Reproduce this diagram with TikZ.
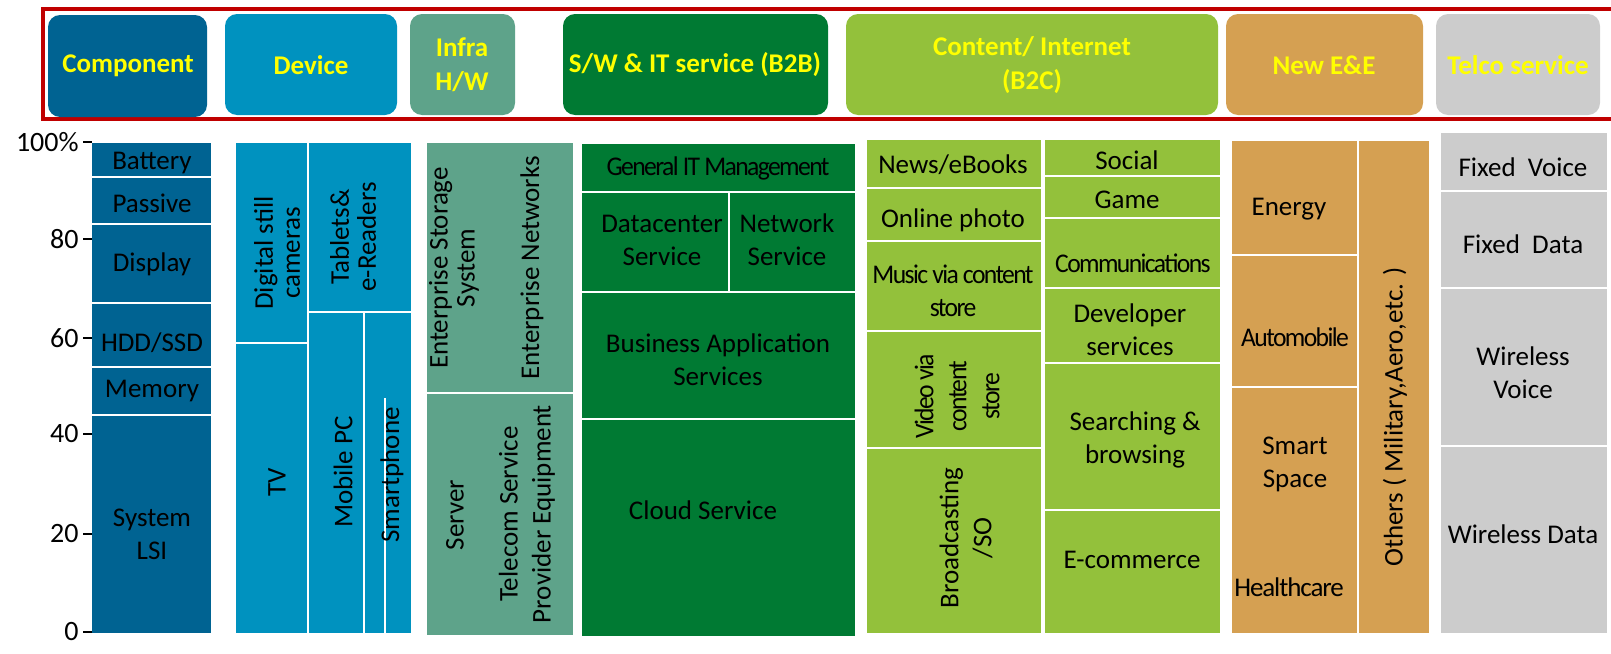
\documentclass[tikz,border=0pt]{standalone}
\usepackage{fontspec}
\setmainfont{Carlito}
\newfontfamily\narrowfont[FakeStretch=0.95, LetterSpace=-6]{Carlito}
\newfontfamily\semifont[LetterSpace=-4]{Carlito}
\definecolor{compblue}{RGB}{0,99,146}
\definecolor{devblue}{RGB}{0,146,191}
\definecolor{infragreen}{RGB}{94,163,138}
\definecolor{swgreen}{RGB}{0,122,51}
\definecolor{webgreen}{RGB}{147,193,59}
\definecolor{eetan}{RGB}{213,160,82}
\definecolor{telgrey}{RGB}{204,204,204}
\definecolor{framered}{RGB}{192,0,0}
\definecolor{hdryellow}{RGB}{255,255,0}
\tikzset{
	hdr/.style={font=\bfseries\fontsize{13.5}{17}\selectfont, text=hdryellow, align=center, inner sep=0},
	lbl/.style={font=\fontsize{13.5}{16.5}\selectfont, align=center, inner sep=0},
	tight/.style={font=\fontsize{13.5}{13.5}\selectfont},
	narrow/.style={font=\narrowfont\fontsize{13.5}{16.5}\selectfont},
	semi/.style={font=\semifont\fontsize{13.5}{16.5}\selectfont},
	vlbl/.style={lbl, rotate=90},
	sep/.style={white, line width=1.3pt},
	tick/.style={line width=1pt},
	ax/.style={font=\fontsize{14}{16}\selectfont, anchor=east, inner sep=0}
}
\begin{document}
\begin{tikzpicture}[x=0.5pt,y=-0.5pt]
	\useasboundingbox (0,0) rectangle (1611,653);
	\clip (0,0) rectangle (1611,653);
	% header bar
	\draw [framered, line width=2.2pt] (43,9) rectangle (1640,119);
	\fill [compblue, rounded corners=6pt] (48,15) rectangle (207,117);
	\fill [devblue, rounded corners=6pt] (225,14) rectangle (397,115);
	\fill [infragreen, rounded corners=6pt] (410,14) rectangle (515,115);
	\fill [swgreen, rounded corners=6pt] (563,14) rectangle (828,115);
	\fill [webgreen, rounded corners=6pt] (846,14) rectangle (1218,115);
	\fill [eetan, rounded corners=6pt] (1226,14) rectangle (1423,115);
	\fill [telgrey, rounded corners=6pt] (1436,14) rectangle (1600,115);
	\node [hdr] (comp) at (128,66) {Component};
	\node [hdr] (dev) at (311,65) {Device};
	\node [hdr] (infra) at (462,65) {Infra\\H/W};
	\node [hdr] (sw) at (695,65) {S/W \& IT service (B2B)};
	\node [hdr] (web) at (1032,65) {Content/ Internet\\(B2C)};
	\node [hdr] (ee) at (1324,65) {New E\&E};
	\node [hdr] (telco) at (1518,65) {Telco service};
	% axis
	\foreach \v/\y in {0/632, 20/534, 40/434, 60/338, 80/239} {
		\draw [tick] (83,\y) -- (92,\y);
		\node [ax] (y\v) at (79,\y) {\v};
	}
	\draw [tick] (83,142) -- (92,142);
	\node [ax] (y100) at (79,142) {100\%};
	% component
	\fill [compblue] (92,143) rectangle (211,633);
	\foreach \y in {177, 224, 303, 367, 415} {
		\draw [sep] (92,\y) -- (211,\y);
	}
	\node [lbl] (battery) at (152,163) {Battery};
	\node [lbl] (passive) at (152,203) {Passive};
	\node [lbl] (display) at (152,264) {Display};
	\node [lbl] (hdd) at (152,343) {HDD/SSD};
	\node [lbl] (memory) at (152,391) {Memory};
	\node [lbl] (lsi) at (152,534) {System\\LSI};
	% device
	\fill [devblue] (236,143) rectangle (411,633);
	\draw [sep] (308,143) -- (308,633);
	\draw [sep] (236,343) -- (307,343);
	\draw [sep] (309,312) -- (411,312);
	\draw [sep] (364,312) -- (364,633);
	\draw [white, line width=0.8pt] (385,398) -- (385,633);
	\node [vlbl, tight] (dsc) at (277,253) {Digital still\\cameras};
	\node [vlbl] (tv) at (277,482) {TV};
	\node [vlbl, tight] (tablet) at (353,237) {Tablets\&\\e-Readers};
	\node [vlbl] (mpc) at (343,472) {Mobile PC};
	\node [vlbl] (phone) at (392,475) {Smartphone};
	% infra h/w
	\fill [infragreen] (427,143) rectangle (573,635);
	\draw [sep] (427,393) -- (573,393);
	\node [vlbl, tight] (storage) at (454,268) {Enterprise Storage\\System};
	\node [vlbl] (entnet) at (532,268) {Enterprise Networks};
	\node [vlbl] (server) at (455,515) {Server};
	\node [vlbl] (telequip) at (527,514) {Telecom Service\\Provider Equipment};
	% s/w & it service
	\fill [swgreen] (582,144) rectangle (855,636);
	\foreach \y in {192, 292, 419} {
		\draw [sep] (582,\y) -- (855,\y);
	}
	\draw [sep] (729,192) -- (729,292);
	\node [lbl, narrow] (itmgmt) at (718,168) {General IT Management};
	\node [lbl] (dcsvc) at (662,240) {Datacenter\\Service};
	\node [lbl] (netsvc) at (787,240) {Network\\Service};
	\node [lbl] (bizapp) at (718,360) {Business Application\\Services};
	\node [lbl] (cloud) at (703,510) {Cloud Service};
	% content / internet
	\fill [webgreen] (867,140) rectangle (1220,633);
	\draw [white, line width=2pt] (1043,140) -- (1043,633);
	\foreach \y in {188, 241, 331, 448} {
		\draw [sep] (867,\y) -- (1042,\y);
	}
	\foreach \y in {176, 218, 288, 363, 510} {
		\draw [sep] (1044,\y) -- (1220,\y);
	}
	\node [lbl] (news) at (953,165) {News/eBooks};
	\node [lbl] (photo) at (953,220) {Online photo};
	\node [lbl, narrow] (music) at (953,291) {Music via content\\store};
	\node [vlbl, narrow] (video) at (957,396) {Video via\\content\\store};
	\node [vlbl] (bcast) at (966,538) {Broadcasting\\/SO};
	\node [lbl] (social) at (1127,160) {Social};
	\node [lbl] (game) at (1127,200) {Game};
	\node [lbl, narrow] (comms) at (1133,263) {Communications};
	\node [lbl] (devsvc) at (1130,330) {Developer\\services};
	\node [lbl] (search) at (1135,440) {Searching \&\\browsing};
	\node [lbl] (ecom) at (1132,560) {E-commerce};
	% new e&e
	\fill [eetan] (1232,141) rectangle (1429,633);
	\draw [sep] (1358,141) -- (1358,633);
	\draw [sep] (1232,255) -- (1357,255);
	\draw [sep] (1232,387) -- (1357,387);
	\node [lbl] (energy) at (1289,209) {Energy};
	\node [lbl, narrow] (auto) at (1295,337) {Automobile};
	\node [lbl] (space) at (1295,464) {Smart\\Space};
	\node [lbl, semi] (health) at (1289,587) {Healthcare};
	\node [vlbl] (others) at (1395,417) {Others ( Military,Aero,etc. )};
	% telco service
	\fill [telgrey] (1441,133) rectangle (1607,633);
	\foreach \y in {191, 288, 446} {
		\draw [sep] (1441,\y) -- (1607,\y);
	}
	\node [lbl] (fvoice) at (1523,167) {Fixed\ \ Voice};
	\node [lbl] (fdata) at (1523,244) {Fixed\ \ Data};
	\node [lbl] (wvoice) at (1523,373) {Wireless\\Voice};
	\node [lbl] (wdata) at (1523,534) {Wireless Data};
\end{tikzpicture}
\end{document}
